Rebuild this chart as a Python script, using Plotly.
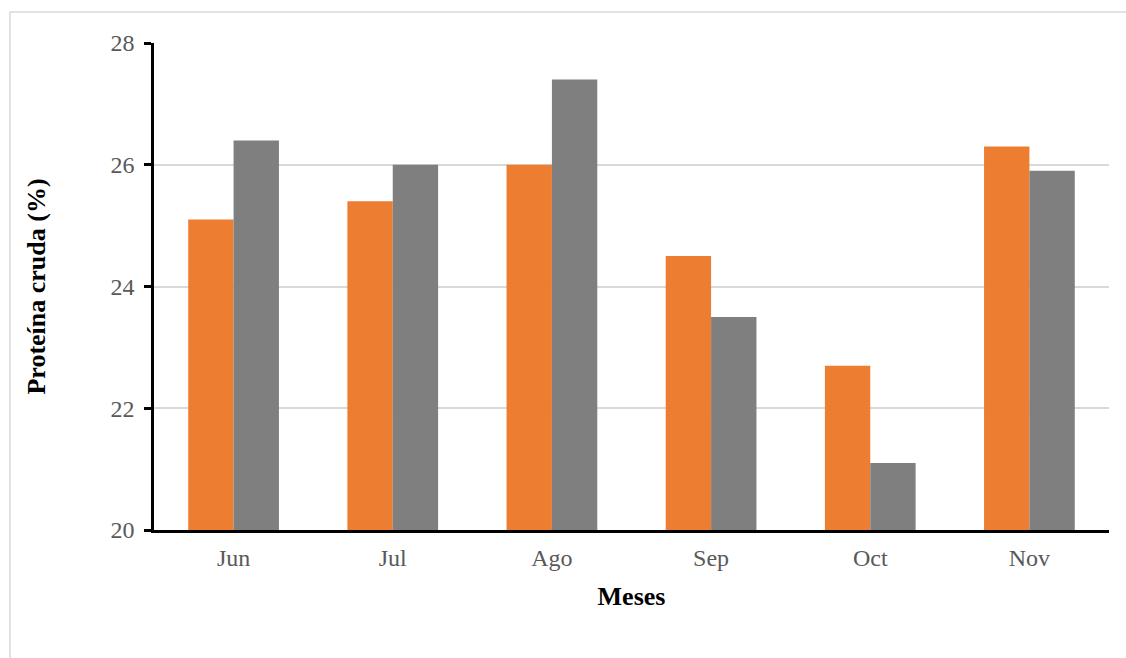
import plotly.graph_objects as go

meses = ["Jun", "Jul", "Ago", "Sep", "Oct", "Nov"]
serie_naranja = [25.1, 25.4, 26.0, 24.5, 22.7, 26.3]
serie_gris = [26.4, 26.0, 27.4, 23.5, 21.1, 25.9]
y_ticks = [20, 22, 24, 26, 28]

W, H = 1126, 658
L, R, T, B = 154, 17, 43, 128
pw, ph = W - L - R, H - T - B

fig = go.Figure()
fig.add_trace(go.Bar(x=meses, y=serie_naranja, marker=dict(color="#ED7D31", line=dict(width=0)),
                     showlegend=False))
fig.add_trace(go.Bar(x=meses, y=serie_gris, marker=dict(color="#7F7F7F", line=dict(width=0)),
                     showlegend=False))

# outer light frame (top and left edges)
fx0 = (10 - L) / pw
fy1 = 1 + (T - 12) / ph
fy0 = -(H - T - ph) / ph - 0.01
fx1 = (W - L) / pw + 0.01
fig.add_shape(type="path", xref="paper", yref="paper",
              path=f"M {fx0} {fy0} L {fx0} {fy1} L {fx1} {fy1}",
              line=dict(color="#D9D9D9", width=1.5))

fig.update_layout(
    width=W, height=H,
    margin=dict(l=L, r=R, t=T, b=B),
    paper_bgcolor="white", plot_bgcolor="white",
    barmode="group", bargap=0.43, bargroupgap=0,
    font=dict(family="Liberation Serif", color="#595959", size=24),
    xaxis=dict(
        showline=True, linecolor="black", linewidth=2.5,
        ticks="outside", ticklen=4, tickcolor="rgba(0,0,0,0)",
        tickfont=dict(size=24, color="#595959"),
        title=dict(text="<b>Meses</b>", font=dict(size=26, color="black"), standoff=18),
        showgrid=False,
    ),
    yaxis=dict(
        range=[20, 28], tickvals=y_ticks,
        showline=True, linecolor="black", linewidth=2.5,
        ticks="outside", ticklen=7, tickwidth=2.5, tickcolor="black",
        ticklabelstandoff=5,
        tickfont=dict(size=24, color="#595959"),
        showgrid=True, gridcolor="#D9D9D9", gridwidth=1.5,
        zeroline=False,
        title=dict(text="<b>Proteína cruda (%)</b>", font=dict(size=26, color="black"), standoff=58),
    ),
)

fig.write_html("out.html")
